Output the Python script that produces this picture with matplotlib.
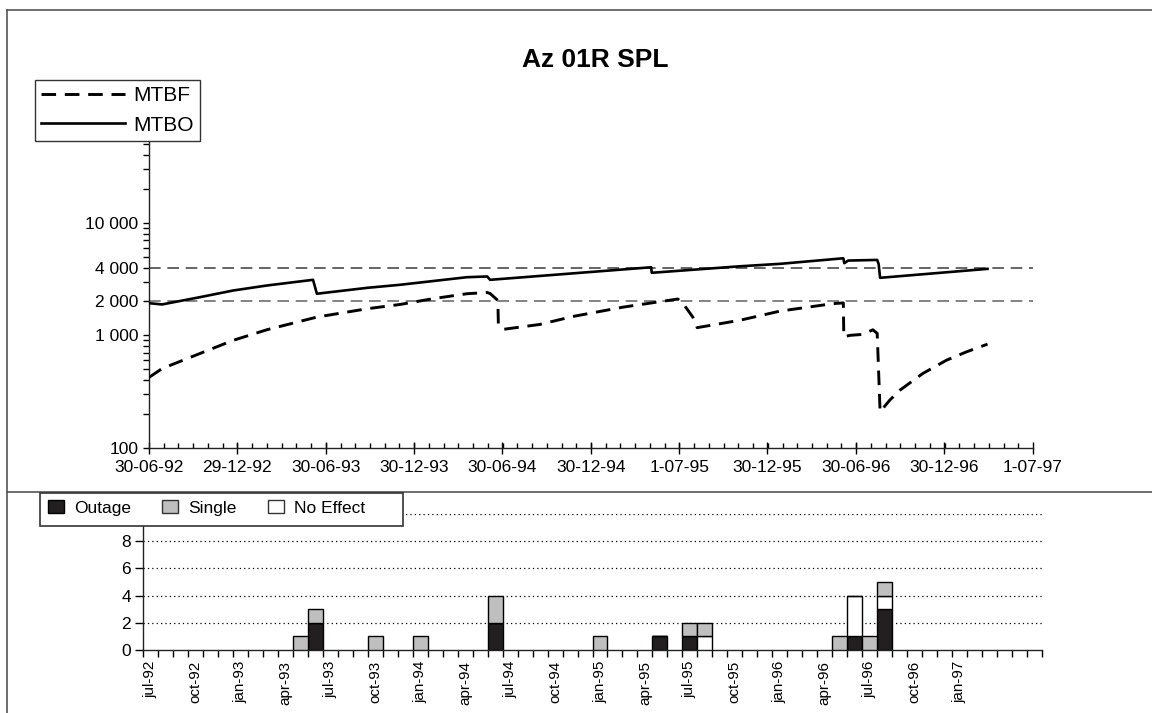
import numpy as np
import pandas as pd
import matplotlib
matplotlib.use('Agg')
import matplotlib.pyplot as plt
import matplotlib.dates as mdates
from matplotlib.lines import Line2D
from matplotlib.patches import Patch, Rectangle
from matplotlib.ticker import FixedLocator, NullFormatter, LogLocator

plt.rcParams['font.family'] = ['Liberation Sans', 'DejaVu Sans']

# MTBF curve (dashed)
mtbf_dates = ['1992-06-30', '1992-07-27', '1992-10-13', '1992-12-21', '1993-03-01',
              '1993-06-12', '1993-09-24', '1993-12-01', '1994-02-07', '1994-04-18',
              '1994-05-30', '1994-06-05', '1994-06-21', '1994-06-22', '1994-07-02',
              '1994-09-16', '1994-11-23', '1995-03-07', '1995-06-18', '1995-06-28',
              '1995-07-09', '1995-07-29', '1995-08-07', '1995-11-03', '1996-01-25',
              '1996-05-13', '1996-06-04', '1996-06-05', '1996-06-18', '1996-07-15',
              '1996-08-04', '1996-08-13', '1996-08-19', '1996-09-08', '1996-09-29',
              '1996-11-15', '1997-01-03', '1997-02-13', '1997-03-29']
mtbf_values = [423, 507, 689, 903, 1122,
               1452, 1722, 1880, 2115, 2340,
               2400, 2350, 2040, 1270, 1130,
               1250, 1470, 1780, 2070, 2100,
               1910, 1450, 1170, 1360, 1640,
               1910, 1940, 970, 1000, 1020,
               1120, 1040, 210, 266, 326,
               458, 601, 712, 835]

# MTBO curve (solid)
mtbo_dates = ['1992-06-30', '1992-07-27', '1992-10-13', '1992-12-21', '1993-03-01',
              '1993-06-04', '1993-06-12', '1993-09-24', '1993-12-01', '1994-04-18',
              '1994-05-30', '1994-06-05', '1995-05-04', '1995-05-05', '1995-11-03',
              '1996-01-25', '1996-06-04', '1996-06-06', '1996-06-14', '1996-08-13',
              '1996-08-16', '1996-08-19', '1997-03-29']
mtbo_values = [1930, 1880, 2180, 2500, 2770,
               3110, 2340, 2640, 2810, 3280,
               3330, 3110, 4020, 3590, 4100,
               4310, 4830, 4370, 4610, 4670,
               4290, 3240, 3890]

ref_levels = [2000, 4000]

top_tick_dates = ['1992-06-30', '1992-12-29', '1993-06-30', '1993-12-30', '1994-06-30',
                  '1994-12-30', '1995-07-01', '1995-12-30', '1996-06-30', '1996-12-30',
                  '1997-07-01']
y_ticks = [100, 1000, 2000, 4000, 10000]
y_labels = ['100', '1 000', '2 000', '4 000', '10 000']

# monthly event counts
event_months = ['1993-05', '1993-06', '1993-10', '1994-01', '1994-06', '1995-01', '1995-05',
                '1995-07', '1995-08', '1996-05', '1996-06', '1996-07', '1996-08']
outage =    [0, 2, 0, 0, 2, 0, 1, 1, 0, 0, 1, 0, 3]
no_effect = [0, 0, 0, 0, 0, 0, 0, 0, 1, 0, 3, 0, 1]
single =    [1, 1, 1, 1, 2, 1, 0, 1, 1, 1, 0, 1, 1]

months = pd.period_range('1992-07', '1997-06', freq='M')

fig = plt.figure(figsize=(11.52, 7.13), dpi=100)
W, H = 1152, 713

# ---- top chart ----
ax = fig.add_axes([149 / W, 1 - 448 / H, 884 / W, 338 / H])
x0 = mdates.date2num(pd.Timestamp('1992-06-30'))
x1 = mdates.date2num(pd.Timestamp('1997-07-01'))

for lvl, c in zip(ref_levels, ['#6e6e6e', '#4a4a4a']):
    ax.axhline(lvl, color=c, lw=1.2, linestyle=(0, (7, 4)), zorder=1)

ax.plot(pd.to_datetime(mtbf_dates), mtbf_values, color='black', lw=2.1,
        linestyle=(0, (5, 3)), label='MTBF', zorder=3)
ax.plot(pd.to_datetime(mtbo_dates), mtbo_values, color='black', lw=1.9,
        label='MTBO', zorder=3)

ax.set_yscale('log')
ax.set_ylim(100, 100000)
ax.set_xlim(x0, x1)
ax.yaxis.set_major_locator(FixedLocator(y_ticks))
ax.yaxis.set_major_formatter(plt.FixedFormatter(y_labels))
ax.yaxis.set_minor_locator(LogLocator(base=10, subs=np.arange(2, 10)))
ax.yaxis.set_minor_formatter(NullFormatter())

tick_ts = pd.to_datetime(top_tick_dates)
ax.set_xticks(mdates.date2num(tick_ts))
ax.set_xticklabels([f'{d.day}-{d.month:02d}-{d.year % 100:02d}' for d in tick_ts])
ax.xaxis.set_minor_locator(FixedLocator(np.linspace(x0, x1, 61)))

for s in ['top', 'right']:
    ax.spines[s].set_visible(False)
for s in ['left', 'bottom']:
    ax.spines[s].set_linewidth(1.0)
    ax.spines[s].set_color('#222222')
ax.tick_params(axis='x', which='major', direction='inout', length=8, width=1, labelsize=12.5, pad=5)
ax.tick_params(axis='x', which='minor', direction='in', length=3.5, width=1)
ax.tick_params(axis='y', which='both', direction='out', length=4.5, width=1, labelsize=12.5, pad=3)

fig.legend(loc='upper left', bbox_to_anchor=(35 / W, 1 - 80 / H), fontsize=15,
           frameon=True, fancybox=False, edgecolor='#333333', framealpha=1,
           handlelength=4.0, handletextpad=0.4, borderpad=0.3, labelspacing=0.5,
           borderaxespad=0)

fig.text(595 / W, 1 - 60 / H, 'Az 01R SPL', ha='center', va='center',
         fontsize=19, fontweight='bold')

# ---- bottom chart ----
bx = fig.add_axes([143.3 / W, 1 - 650 / H, 898.4 / W, 136 / H])
idx = np.array([months.get_loc(pd.Period(m, 'M')) for m in event_months]) + 0.5
outage = np.array(outage)
no_effect = np.array(no_effect)
single = np.array(single)
bx.bar(idx, outage, width=1, color='#231f20', edgecolor='black', lw=1, zorder=3)
bx.bar(idx, no_effect, width=1, bottom=outage, color='white', edgecolor='black', lw=1, zorder=3)
bx.bar(idx, single, width=1, bottom=outage + no_effect, color='#bfbfbf', edgecolor='black',
       lw=1, zorder=3)

bx.set_xlim(0, len(months))
bx.set_ylim(0, 10)
for g in [2, 4, 6, 8, 10]:
    bx.axhline(g, color='black', lw=0.9, linestyle=(0, (1, 2.5)), zorder=1)
bx.set_yticks([0, 2, 4, 6, 8])
bx.set_xticks(np.arange(len(months) + 1))
bx.set_xticklabels([])
lab_idx = np.arange(0, 55, 3)
bx.set_xticks(lab_idx + 0.5, minor=True)
bx.set_xticklabels([months[i].strftime('%b-%y').lower() for i in lab_idx], minor=True,
                   rotation=90, fontsize=11)
bx.tick_params(axis='x', which='major', direction='out', length=5, width=1)
bx.tick_params(axis='x', which='minor', length=0, pad=8)
bx.tick_params(axis='y', direction='out', length=6, width=1, labelsize=12.5, pad=3)
for s in ['top', 'right']:
    bx.spines[s].set_visible(False)
for s in ['left', 'bottom']:
    bx.spines[s].set_linewidth(1.0)
    bx.spines[s].set_color('#222222')

# legend frame drawn as a box, entries placed inside it
fig.add_artist(Rectangle((40 / W, 1 - 526 / H), 363 / W, 33 / H, transform=fig.transFigure,
                         facecolor='white', edgecolor='#333333', lw=1.2, zorder=4))
handles = [Patch(facecolor='#231f20', edgecolor='black', label='Outage'),
           Patch(facecolor='#bfbfbf', edgecolor='#333333', label='Single'),
           Patch(facecolor='white', edgecolor='#333333', label='No Effect')]
fig.legend(handles=handles, loc='center left', bbox_to_anchor=(48 / W, 1 - 508 / H), ncol=3,
           fontsize=12.5, frameon=False, handlelength=0.9, handleheight=0.8,
           handletextpad=0.6, columnspacing=1.8, borderpad=0, borderaxespad=0)

# page frame lines
lc = '#555555'
fig.add_artist(Line2D([7 / W, 7 / W], [0, 1 - 10 / H], color=lc, lw=1.2))
fig.add_artist(Line2D([7 / W, 1], [1 - 10 / H, 1 - 10 / H], color=lc, lw=1.2))
fig.add_artist(Line2D([7 / W, 1], [1 - 492 / H, 1 - 492 / H], color=lc, lw=1.2))

fig.savefig('out.png', dpi=100)
